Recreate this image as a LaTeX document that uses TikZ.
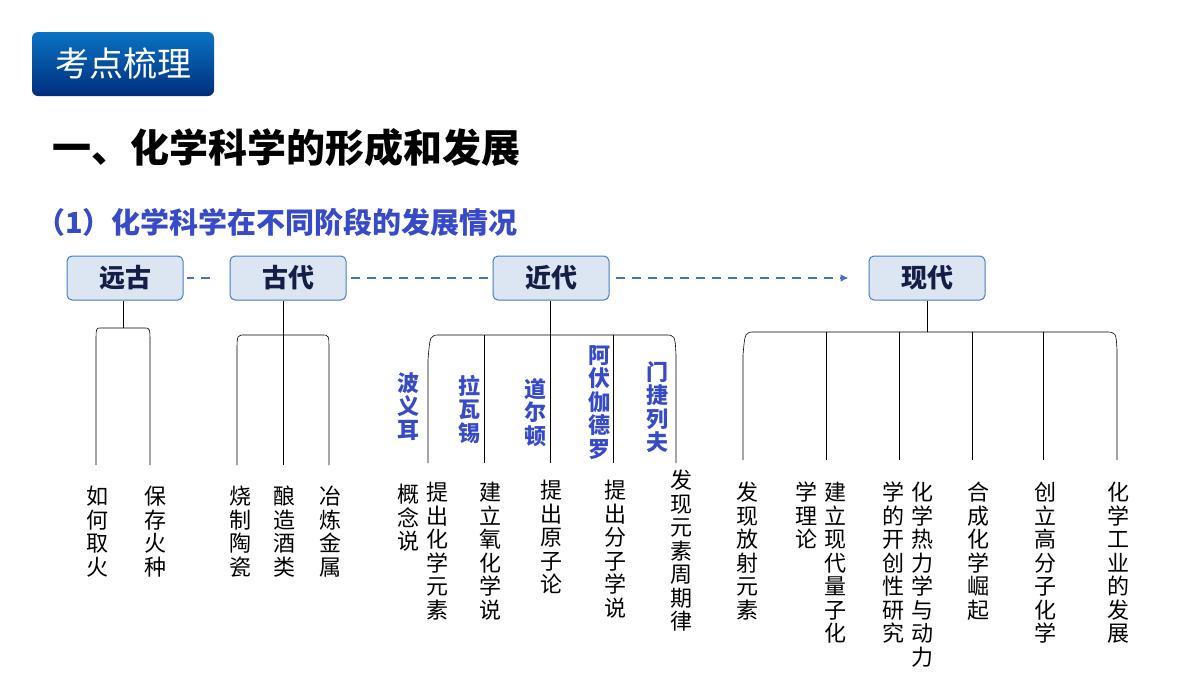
\documentclass[tikz,border=0pt]{standalone}
\usepackage{fontspec}
\setmainfont{Noto Sans CJK SC}
\usetikzlibrary{arrows.meta}
\definecolor{boxfill}{RGB}{220,230,243}
\definecolor{boxline}{RGB}{70,125,195}
\definecolor{navy}{RGB}{20,30,70}
\definecolor{sub}{RGB}{55,75,200}
\definecolor{dashcol}{RGB}{75,110,190}
\definecolor{hdtop}{RGB}{10,115,195}
\definecolor{hdbot}{RGB}{0,45,125}
\tikzset{
 era/.style={draw=boxline,line width=1pt,fill=boxfill,rounded corners=5pt,minimum width=116pt,minimum height=44pt,font=\fontsize{26}{26}\selectfont\bfseries,text=navy},
 vt/.style={anchor=north,align=center,inner sep=0pt,font=\fontsize{22}{23.5}\selectfont},
 nm/.style={vt,text=sub,font=\fontsize{22}{23.5}\selectfont\bfseries},
 ln/.style={line width=0.6pt,black},
 dl/.style={draw=dashcol,line width=2pt,dash pattern=on 9pt off 7pt}
}
\begin{document}
\begin{tikzpicture}[x=1pt,y=-1pt]
\useasboundingbox (0,0) rectangle (1200,675);
% header
\node[rounded corners=6pt,top color=hdtop,bottom color=hdbot,minimum width=182pt,minimum height=64pt,text=white,font=\fontsize{34}{34}\selectfont] (hd) at (123,64) {考点梳理};
\node[anchor=west,font=\fontsize{39}{39}\selectfont\bfseries,inner sep=0pt] (t1) at (52,148) {一、化学科学的形成和发展};
\node[anchor=west,font=\fontsize{29}{29}\selectfont\bfseries,text=sub,inner sep=0pt] (t2) at (36,222) {（1）化学科学在不同阶段的发展情况};
% eras
\node[era] (e1) at (125,278) {远古};
\node[era] (e2) at (288,278) {古代};
\node[era] (e3) at (551,278) {近代};
\node[era] (e4) at (927,278) {现代};
\draw[dl] ([xshift=-20pt]e2.west) -- ([xshift=3pt]e1.east) ;
\draw[dl] ([xshift=4pt]e2.east) -- ([xshift=-2pt]e3.west);
\draw[dl,-{Latex[length=8pt,width=8pt]}] ([xshift=6pt]e3.east) -- ([xshift=-20pt]e4.west);
% trees
\draw[ln] (e1.south) ++(-2,0) -- (123,328);
\draw[ln] (150,465) -- (150,345) .. controls (150,328) .. (145,328) -- (100,328) .. controls (96,328) .. (96,345) -- (96,465);
\draw[ln] (e2.south) ++(-5,0) -- (283,465);
\draw[ln] (329,465) -- (329,350) .. controls (329,335) .. (322,335) -- (245,335) .. controls (237,335) .. (237,352) -- (237,465);
\draw[ln] (e3.south) ++(-1,0) -- (550,463);
\draw[ln] (676,463) -- (676,355) .. controls (675,335) .. (665,335) -- (440,335) .. controls (430,335) .. (428,360) -- (428,463);
\foreach \x in {484,613} \draw[ln] (\x,335) -- (\x,463);
\draw[ln] (e4.south) -- (927,332);
\draw[ln] (1117,460) -- (1117,350) .. controls (1116,332) .. (1105,332) -- (755,332) .. controls (745,332) .. (743,355) -- (743,460);
\foreach \x in {826,899,972,1043} \draw[ln] (\x,332) -- (\x,460);
% leaves
\node[vt] (a1) at (97,486) {如\\何\\取\\火};
\node[vt] (a2) at (155,486) {保\\存\\火\\种};
\node[vt] (b1) at (240,486) {烧\\制\\陶\\瓷};
\node[vt] (b2) at (284,486) {酿\\造\\酒\\类};
\node[vt] (b3) at (330,486) {冶\\炼\\金\\属};
\node[nm] (n1) at (408,372) {波\\义\\耳};
\node[nm] (n2) at (469,375) {拉\\瓦\\锡};
\node[nm] (n3) at (535,378) {道\\尔\\顿};
\node[nm] (n4) at (599,345) {阿\\伏\\伽\\德\\罗};
\node[nm] (n5) at (657,361) {门\\捷\\列\\夫};
\node[vt] (c0) at (408,484) {概\\念\\说};
\node[vt] (c1) at (437,482) {提\\出\\化\\学\\元\\素};
\node[vt] (c2) at (490,482) {建\\立\\氧\\化\\学\\说};
\node[vt] (c3) at (551,480) {提\\出\\原\\子\\论};
\node[vt] (c4) at (615,480) {提\\出\\分\\子\\学\\说};
\node[vt] (c5) at (681,470) {发\\现\\元\\素\\周\\期\\律};
\node[vt] (d1) at (747,482) {发\\现\\放\\射\\元\\素};
\node[vt] (d2a) at (806,482) {学\\理\\论};
\node[vt] (d2) at (835,482) {建\\立\\现\\代\\量\\子\\化};
\node[vt] (d3a) at (893,482) {学\\的\\开\\创\\性\\研\\究};
\node[vt] (d3) at (922,482) {化\\学\\热\\力\\学\\与\\动\\力};
\node[vt] (d4) at (978,482) {合\\成\\化\\学\\崛\\起};
\node[vt] (d5) at (1045,482) {创\\立\\高\\分\\子\\化\\学};
\node[vt] (d6) at (1118,482) {化\\学\\工\\业\\的\\发\\展};
\end{tikzpicture}
\end{document}
